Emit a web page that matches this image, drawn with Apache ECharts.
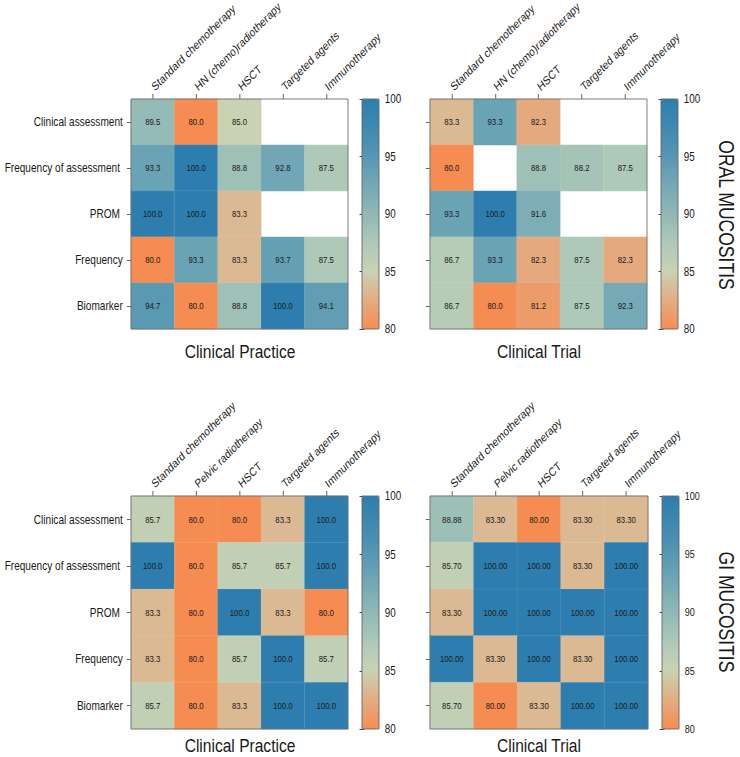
<!DOCTYPE html>
<html><head><meta charset="utf-8">
<script src="https://cdn.jsdelivr.net/npm/echarts@6/dist/echarts.min.js"></script>
<style>
html,body{margin:0;padding:0;background:#fff;overflow:hidden;width:740px;height:757px}
#c{width:902px;height:757px;transform:scaleX(0.82);transform-origin:0 0}
</style>
</head><body><div id="c"></div>
<script>
// ---- data ----
const rowLabels = ['Clinical assessment', 'Frequency of assessment ', 'PROM ', 'Frequency', 'Biomarker'];
const oralCols = ['Standard chemotherapy', 'HN (chemo)radiotherapy', 'HSCT', 'Targeted agents', 'Immunotherapy'];
const giCols = ['Standard chemotherapy', 'Pelvic radiotherapy', 'HSCT', 'Targeted agents', 'Immunotherapy'];
const oralPractice = [
  [89.5, 80.0, 85.0, null, null],
  [93.3, 100.0, 88.8, 92.8, 87.5],
  [100.0, 100.0, 83.3, null, null],
  [80.0, 93.3, 83.3, 93.7, 87.5],
  [94.7, 80.0, 88.8, 100.0, 94.1]
];
const oralTrial = [
  [83.3, 93.3, 82.3, null, null],
  [80.0, null, 88.8, 88.2, 87.5],
  [93.3, 100.0, 91.6, null, null],
  [86.7, 93.3, 82.3, 87.5, 82.3],
  [86.7, 80.0, 81.2, 87.5, 92.3]
];
const giPractice = [
  [85.7, 80.0, 80.0, 83.3, 100.0],
  [100.0, 80.0, 85.7, 85.7, 100.0],
  [83.3, 80.0, 100.0, 83.3, 80.0],
  [83.3, 80.0, 85.7, 100.0, 85.7],
  [85.7, 80.0, 83.3, 100.0, 100.0]
];
const giTrial = [
  [88.88, 83.30, 80.00, 83.30, 83.30],
  [85.70, 100.00, 100.00, 83.30, 100.00],
  [83.30, 100.00, 100.00, 100.00, 100.00],
  [100.00, 83.30, 100.00, 83.30, 100.00],
  [85.70, 80.00, 83.30, 100.00, 100.00]
];
const scaleMin = 80, scaleMax = 100, scaleStep = 5;
const panelTitles = ['Clinical Practice', 'Clinical Trial'];
const sideTitles = ['ORAL MUCOSITIS', 'GI MUCOSITIS'];

// ---- style / layout ----
const S = 0.82;                 // horizontal compression (condensed look) via CSS scaleX
const sx = (x) => x / S;        // on-screen x -> chart x
const LABEL_ROT = -Math.atan(S) * 180 / Math.PI; // appears as 45deg after compression
const FONT = "'Liberation Sans',Arial,sans-serif";
const palette = ['#f58c52', '#e3ad82', '#c9d2b3', '#aec9b7', '#8fb8b6', '#73a8b5', '#5797b2', '#3f89b0', '#2d7eae'];
const TXT = '#1a1a1a';

const panels = [
  { data: oralPractice, cols: oralCols, grid: [131, 99, 217, 230], cb: [362, 99, 17, 230], digits: 1, showY: true, cbFont: 12 },
  { data: oralTrial, cols: oralCols, grid: [430, 99, 217, 230], cb: [661, 99, 17, 230], digits: 1, showY: false, cbFont: 12 },
  { data: giPractice, cols: giCols, grid: [131, 496, 217, 233], cb: [362, 496, 17, 233], digits: 1, showY: true, cbFont: 12 },
  { data: giTrial, cols: giCols, grid: [430, 496, 218, 233], cb: [662, 496, 17, 233], digits: 2, showY: false, cbFont: 11 }
];

const grid = [], xAxis = [], yAxis = [], series = [], visualMap = [];
panels.forEach((p, i) => {
  const [l, t, w, h] = p.grid;
  grid.push({ left: sx(l), top: t, width: sx(w), height: h, show: true, z: 10, outerBoundsMode: 'none', containLabel: false,
    backgroundColor: 'transparent', borderColor: '#707070', borderWidth: 1 });
  xAxis.push({
    type: 'category', gridIndex: i, data: p.cols, position: 'top',
    axisLine: { show: false },
    axisTick: { show: true, alignWithLabel: true, length: 5, lineStyle: { color: '#555' } },
    axisLabel: { rotate: LABEL_ROT, margin: 11, fontSize: 12, color: TXT, fontFamily: FONT, interval: 0 },
    splitLine: { show: false }
  });
  yAxis.push({
    type: 'category', gridIndex: i, data: rowLabels, inverse: true,
    axisLine: { show: false },
    axisTick: { show: true, alignWithLabel: true, length: 5, lineStyle: { color: '#555' } },
    axisLabel: { show: p.showY, margin: 10, fontSize: 12.3, color: TXT, fontFamily: FONT },
    splitLine: { show: false }
  });
  const d = [];
  p.data.forEach((row, r) => row.forEach((v, c) => { if (v !== null) d.push([c, r, v]); }));
  series.push({
    type: 'heatmap', xAxisIndex: i, yAxisIndex: i, data: d,
    itemStyle: { borderWidth: 0.5, borderColor: 'rgba(255,255,255,0.18)' },
    label: { show: true, fontSize: 9.5, color: TXT, fontFamily: FONT, formatter: (q) => q.value[2].toFixed(p.digits) },
    emphasis: { disabled: true }
  });
  const [cl, ct, cw, ch] = p.cb;
  visualMap.push({
    type: 'continuous', seriesIndex: i, min: scaleMin, max: scaleMax, calculable: false,
    orient: 'vertical', left: sx(cl), top: ct, itemWidth: sx(cw), itemHeight: ch, padding: 0,
    text: null, showLabel: false, hoverLink: false,
    inRange: { color: palette }
  });
});
// colorbar axes overlays
panels.forEach((p, i) => {
  const [cl, ct, cw, ch] = p.cb;
  const gi = grid.length;
  grid.push({ left: sx(cl), top: ct, width: sx(cw), height: ch, show: true, z: 10, outerBoundsMode: 'none', containLabel: false,
    backgroundColor: 'transparent', borderColor: '#666', borderWidth: 1 });
  xAxis.push({ type: 'value', gridIndex: gi, show: false, min: 0, max: 1 });
  yAxis.push({
    type: 'value', gridIndex: gi, position: 'right', min: scaleMin, max: scaleMax, interval: scaleStep,
    axisLine: { show: false }, splitLine: { show: false },
    axisTick: { show: true, inside: true, length: 3, lineStyle: { color: '#333' } },
    axisLabel: { show: true, margin: 7, fontSize: p.cbFont, color: TXT, fontFamily: FONT }
  });
  yAxis.push({
    type: 'value', gridIndex: gi, position: 'left', min: scaleMin, max: scaleMax, interval: scaleStep,
    axisLine: { show: false }, splitLine: { show: false },
    axisTick: { show: true, inside: true, length: 3, lineStyle: { color: '#333' } },
    axisLabel: { show: false }
  });
});

const graphic = [];
const titleX = [240, 539], titleY = [351, 745];
titleY.forEach(ty => titleX.forEach((tx, k) => graphic.push({
  type: 'text', x: sx(tx), y: ty, style: { text: panelTitles[k], fontSize: 19, fill: TXT, fontFamily: FONT, align: 'center', verticalAlign: 'middle' }
})));
[215, 612].forEach((sy, k) => graphic.push({
  type: 'text', x: sx(727), y: sy, rotation: -Math.PI / 2, scaleX: S, scaleY: 1 / S,
  style: { text: sideTitles[k], fontSize: 21.4, fill: TXT, fontFamily: FONT, align: 'center', verticalAlign: 'middle' }
}));

const chart = echarts.init(document.getElementById('c'), null, { renderer: 'svg' });
chart.setOption({
  animation: false,
  backgroundColor: '#fff',
  grid, xAxis, yAxis, series, visualMap, graphic
});
</script>
</body></html>
